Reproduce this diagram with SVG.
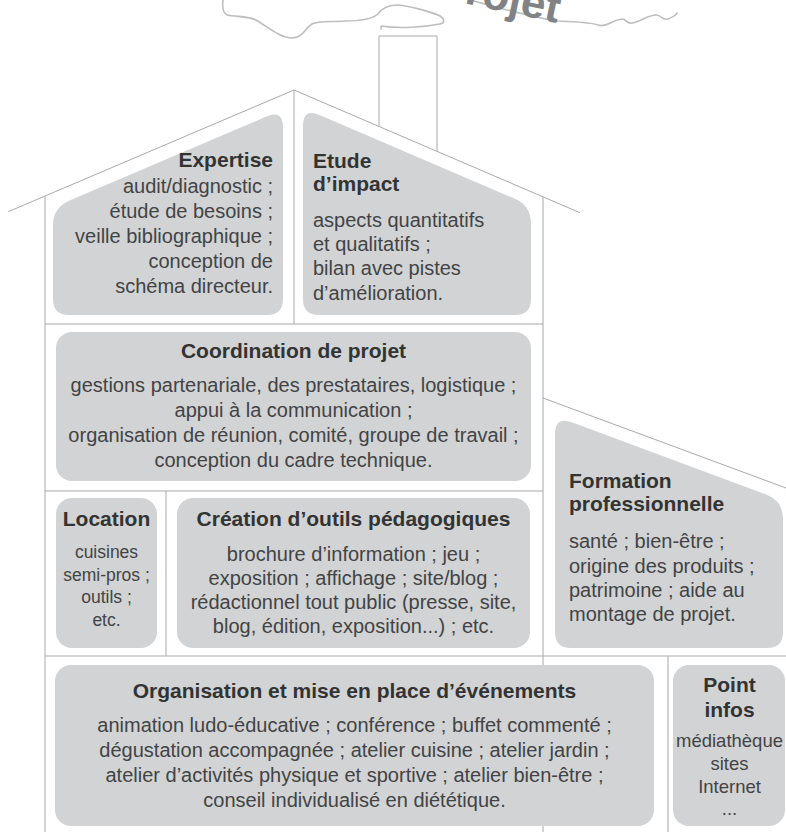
<svg xmlns="http://www.w3.org/2000/svg" width="786" height="832" viewBox="0 0 786 832">
<style>
.ln{stroke:#a7a9ac;stroke-width:1;fill:none}
.cl{stroke:#bcbec0;stroke-width:1.6;fill:none;stroke-linecap:round;stroke-linejoin:round}
.bx{fill:#d1d3d4}
.t{font-family:"Liberation Sans",Arial,sans-serif;font-size:20px;fill:#434345}
.h{font-family:"Liberation Sans",Arial,sans-serif;font-size:21px;font-weight:bold;fill:#333333}
.s{font-size:17.5px}
.p{font-size:18.5px}
.m{text-anchor:middle}
.e{text-anchor:end}
</style>
<rect width="786" height="832" fill="#ffffff"/>
<g id="connectors">
<path class="cl" d="M223,0 C222,8 223,13 227,15 C236,17 248,16 256,20 C268,27 280,38 292,38 C303,38 305,28 312,24 C318,21 330,22 345,21 C362,21 372,19 378,14 C382,8 388,5 398,5 C410,6 432,12 440,16 C445,19 445,23 440,24 C425,27 400,29 381,26 L381,29"/>
<path class="cl" d="M470,0 C500,8 530,17 557,21 C575,22 590,22 598,25 C606,28 612,20 622,19 C627,19 626,24 632,23 C642,21 648,15 656,15 C662,15 662,21 668,19 C673,17 676,15 677,13"/>
<path class="ln" d="M8.3,211.7 L294,90 L580,212.7"/>
<path class="ln" d="M379,126.5 L379,36 L437,36 L437,151.3"/>
<path class="ln" d="M294,90 V324"/>
<path class="ln" d="M45,196 V832"/>
<path class="ln" d="M543,197 V832"/>
<path class="ln" d="M45,324 H543"/>
<path class="ln" d="M45,491 H543"/>
<path class="ln" d="M166,491 V656"/>
<path class="ln" d="M45,656 H786"/>
<path class="ln" d="M668,656 V832"/>
<path class="ln" d="M543,398 L786,488"/>
</g>
<g id="projet">
<text transform="translate(435,-3) rotate(12)" font-family="Liberation Sans, Arial, sans-serif" font-size="44" font-weight="bold" fill="#808285">Projet</text>
</g>
<g id="expertise">
<path class="bx" d="M53,299 L53,225 Q53,207.5 69.6,200.4 L266.4,116.6 Q283,109.5 283,127.5 L283,299 Q283,315 267,315 L69,315 Q53,315 53,299 Z"/>
<text class="h e" x="273" y="167">Expertise</text>
<text class="t e" x="273" y="193">audit/diagnostic ;</text>
<text class="t e" x="273" y="218">étude de besoins ;</text>
<text class="t e" x="273" y="243">veille bibliographique ;</text>
<text class="t e" x="273" y="268">conception de</text>
<text class="t e" x="273" y="293">schéma directeur.</text>
</g>
<g id="etude">
<path class="bx" d="M303,299 L303,126 Q303,108 319.5,115.1 L514.5,198.6 Q531,205.7 531,223.7 L531,299 Q531,315 515,315 L319,315 Q303,315 303,299 Z"/>
<text class="h" x="313" y="168">Etude</text>
<text class="h" x="313" y="191">d’impact</text>
<text class="t" x="313" y="227">aspects quantitatifs</text>
<text class="t" x="313" y="251">et qualitatifs ;</text>
<text class="t" x="313" y="275">bilan avec pistes</text>
<text class="t" x="313" y="300">d’amélioration.</text>
</g>
<g id="coordination">
<rect class="bx" x="56" y="332" width="475" height="149" rx="16"/>
<text class="h m" x="293.5" y="358">Coordination de projet</text>
<text class="t m" x="293.5" y="392">gestions partenariale, des prestataires, logistique ;</text>
<text class="t m" x="293.5" y="417">appui à la communication ;</text>
<text class="t m" x="293.5" y="442">organisation de réunion, comité, groupe de travail ;</text>
<text class="t m" x="293.5" y="467">conception du cadre technique.</text>
</g>
<g id="location">
<rect class="bx" x="56" y="498" width="101" height="150" rx="16"/>
<text class="h m" x="106.5" y="526">Location</text>
<text class="t s m" x="106.5" y="558">cuisines</text>
<text class="t s m" x="106.5" y="580.5">semi-pros ;</text>
<text class="t s m" x="106.5" y="603">outils ;</text>
<text class="t s m" x="106.5" y="625.5">etc.</text>
</g>
<g id="creation">
<rect class="bx" x="177" y="498" width="353" height="150" rx="16"/>
<text class="h m" x="353.5" y="526">Création d’outils pédagogiques</text>
<text class="t m" x="353.5" y="561">brochure d’information ; jeu ;</text>
<text class="t m" x="353.5" y="585">exposition ; affichage ; site/blog ;</text>
<text class="t m" x="353.5" y="609">rédactionnel tout public (presse, site,</text>
<text class="t m" x="353.5" y="633">blog, édition, exposition...) ; etc.</text>
</g>
<g id="formation">
<path class="bx" d="M555,632 L555,434 Q555,416 571.9,422.3 L766.1,494.5 Q783,500.8 783,518.8 L783,632 Q783,648 767,648 L571,648 Q555,648 555,632 Z"/>
<text class="h" x="569" y="488">Formation</text>
<text class="h" x="569" y="511">professionnelle</text>
<text class="t" x="569" y="548">santé ; bien-être ;</text>
<text class="t" x="569" y="572.5">origine des produits ;</text>
<text class="t" x="569" y="597">patrimoine ; aide au</text>
<text class="t" x="569" y="621">montage de projet.</text>
</g>
<g id="organisation">
<rect class="bx" x="55" y="665" width="599" height="161" rx="16"/>
<text class="h m" x="354.5" y="698">Organisation et mise en place d’événements</text>
<text class="t m" x="354.5" y="732">animation ludo-éducative ; conférence ; buffet commenté ;</text>
<text class="t m" x="354.5" y="757">dégustation accompagnée ; atelier cuisine ; atelier jardin ;</text>
<text class="t m" x="354.5" y="782">atelier d’activités physique et sportive ; atelier bien-être ;</text>
<text class="t m" x="354.5" y="806.5">conseil individualisé en diététique.</text>
</g>
<g id="point-infos">
<rect class="bx" x="673" y="665" width="112" height="161" rx="16"/>
<text class="h m" x="729.5" y="692">Point</text>
<text class="h m" x="729.5" y="717">infos</text>
<text class="t p m" x="729.5" y="747">médiathèque</text>
<text class="t p m" x="729.5" y="770">sites</text>
<text class="t p m" x="729.5" y="793">Internet</text>
<text class="t p m" x="729.5" y="815">...</text>
</g>
</svg>
